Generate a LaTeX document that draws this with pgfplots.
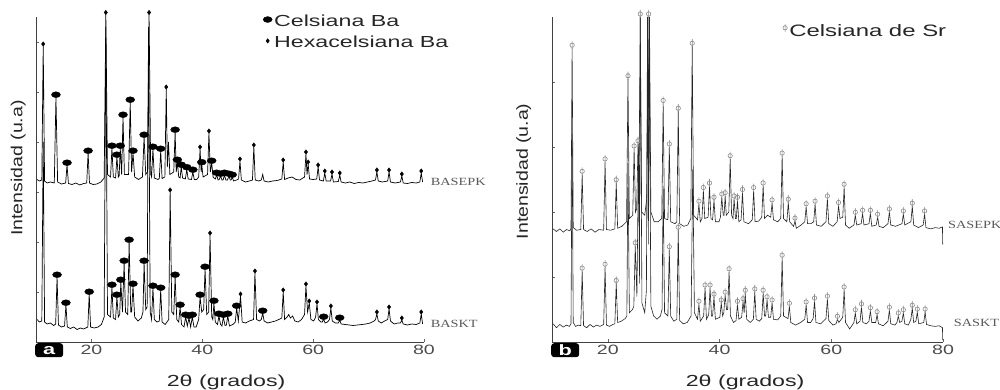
\documentclass[border=0pt]{standalone}
\usepackage{pgfplots}
\pgfplotsset{compat=1.18}
\usepackage{fontspec}
\setmainfont{Liberation Sans}[FakeStretch=1.45]
\newfontfamily\ylabfont{Liberation Sans}[FakeStretch=1.22]
\newfontfamily\labserif{Liberation Serif}[FakeStretch=1.3]

\pgfdeclareplotmark{celm}{%
  \pgfpathellipse{\pgfpointorigin}{\pgfpoint{1.45\pgfplotmarksize}{0pt}}{\pgfpoint{0pt}{0.95\pgfplotmarksize}}%
  \pgfusepathqfillstroke}
\pgfdeclareplotmark{phim}{%
  \pgfpathcircle{\pgfpointorigin}{0.55\pgfplotmarksize}%
  \pgfpathmoveto{\pgfpoint{0pt}{-\pgfplotmarksize}}%
  \pgfpathlineto{\pgfpoint{0pt}{\pgfplotmarksize}}%
  \pgfusepathqstroke}

\pgfplotsset{
  xrdaxis/.style={
    scale only axis, anchor=south west,
    xmin=10, xmax=80, ymin=0,
    enlargelimits=false, clip=false,
    axis x line=bottom, axis y line=left,
    axis line style={-, black!75, line width=0.8pt},
    xtick={20,40,60,80},
    yticklabels={},
    tick align=inside, major tick length=3pt,
    tick style={black!60, line width=0.6pt},
    /pgf/number format/assume math mode=true,
    ticklabel style={font=\fontsize{13.5}{14}\selectfont, text=black!70},
    xlabel={2θ (grados)},
    xlabel style={font=\fontsize{16}{17}\selectfont, text=black!85, anchor=center},
    ylabel style={font=\ylabfont\fontsize{16}{17}\selectfont, text=black!85, anchor=center},
    legend cell align=left,
    legend image code/.code={\draw[#1] plot coordinates {(3pt,0pt)};},
  },
  trace/.style={forget plot, line width=0.7pt, black, mark=none},
  celmk/.style={only marks, mark=celm, mark size=3.1pt, black, mark options={yshift=2.3pt, fill=black}},
  hexmk/.style={only marks, mark=diamond*, mark size=2.2pt, black, mark options={yshift=2pt, fill=black}},
  phimk/.style={only marks, mark=phim, mark size=4pt, black!45, mark options={yshift=3pt, line width=0.6pt}},
}

\begin{document}
\begin{tikzpicture}
\path[use as bounding box] (0pt,0pt) rectangle (1000pt,390pt);

% ---------------- Panel a ----------------
\begin{axis}[xrdaxis, at={(36pt,48pt)}, width=388pt, height=325pt, ymax=6.5,
  ytick={1,2,3,4,5,6},
  xlabel style={at={(axis description cs:0.49,-0.123)}},
  ylabel={Intensidad (u.a)},
  ylabel style={at={(axis description cs:-0.046,0.535)}},
  legend style={draw=none, fill=none, at={(rel axis cs:0.585,1.012)}, anchor=north west,
    font=\fontsize{16}{18}\selectfont, text=black!85, row sep=4pt, inner sep=0pt},
]
% BASKT trace
\addplot[trace] table {
x y
10.2 0.45
10.6 0.40
11.05 0.42
11.3 4.0
11.55 0.40
12.0 0.36
12.6 0.38
13.2 0.33
13.55 0.36
13.8 1.3
14.05 0.34
14.6 0.30
15.15 0.32
15.4 0.74
15.65 0.30
16.2 0.27
16.8 0.30
17.4 0.25
18.0 0.28
18.6 0.26
19.35 0.30
19.6 0.96
19.85 0.30
20.5 0.28
21.2 0.30
21.8 0.35
22.3 0.50
22.6 6.3
22.9 0.55
23.45 0.50
23.7 1.1
23.95 0.48
24.35 0.45
24.6 0.9
24.85 0.5
25.1 0.55
25.3 1.2
25.6 0.6
25.9 1.58
26.15 0.6
26.55 0.55
26.8 2.0
27.1 0.6
27.25 0.6
27.5 1.12
27.8 0.5
28.4 0.42
29.0 0.48
29.3 0.6
29.5 1.58
29.8 0.65
30.05 0.7
30.3 6.3
30.6 0.6
30.85 0.45
31.1 1.08
31.35 0.45
31.8 0.40
32.25 0.42
32.5 1.04
32.75 0.40
33.3 0.35
33.95 0.45
34.2 3.0
34.5 0.6
34.85 0.55
35.1 1.3
35.4 0.45
35.75 0.40
36.0 0.7
36.25 0.35
36.7 0.30
37.0 0.5
37.3 0.32
37.6 0.48
37.9 0.3
38.2 0.5
38.5 0.3
38.9 0.3
39.35 0.45
39.6 0.9
39.9 0.6
40.25 0.65
40.5 1.46
40.8 0.55
41.15 0.6
41.4 2.14
41.7 0.5
41.9 0.45
42.1 0.78
42.35 0.4
42.75 0.35
43.0 0.52
43.3 0.35
43.55 0.32
43.8 0.5
44.1 0.33
44.35 0.34
44.6 0.52
44.9 0.32
45.5 0.35
45.95 0.4
46.2 0.68
46.5 0.42
46.9 0.92
47.2 0.4
47.8 0.38
48.5 0.42
49.25 0.45
49.5 1.38
49.8 0.45
50.3 0.42
50.65 0.45
50.9 0.58
51.15 0.42
51.8 0.38
52.5 0.40
53.2 0.42
53.8 0.45
54.35 0.48
54.6 1.0
54.85 0.45
55.3 0.5
55.6 0.55
55.9 0.48
56.3 0.52
56.7 0.42
57.3 0.40
57.9 0.45
58.45 0.55
58.7 1.12
59.0 0.6
59.3 0.78
59.6 0.45
60.1 0.42
60.45 0.5
60.7 0.76
60.95 0.45
61.4 0.4
61.65 0.4
61.9 0.46
62.15 0.38
62.6 0.4
62.95 0.45
63.2 0.68
63.45 0.42
64.0 0.38
64.55 0.38
64.8 0.44
65.05 0.36
65.8 0.35
66.5 0.34
67.2 0.33
68.0 0.34
68.8 0.35
69.5 0.36
70.3 0.38
71.0 0.42
71.25 0.45
71.5 0.56
71.75 0.42
72.3 0.38
72.9 0.42
73.45 0.45
73.7 0.66
73.95 0.42
74.6 0.36
75.3 0.38
75.75 0.38
76.0 0.44
76.25 0.36
77.0 0.34
77.8 0.36
78.6 0.35
79.25 0.38
79.5 0.56
79.75 0.36
};
% BASEPK trace
\addplot[trace] table {
x y
10.2 3.25
10.6 3.22
11.05 3.24
11.3 5.92
11.55 3.22
12.0 3.18
12.6 3.2
13.3 3.18
13.6 4.9
13.9 3.2
14.6 3.16
15.35 3.18
15.6 3.54
15.85 3.17
16.5 3.15
17.2 3.18
17.9 3.14
18.6 3.17
19.15 3.18
19.4 3.78
19.65 3.18
20.3 3.15
21.0 3.16
21.7 3.2
22.3 3.28
22.6 6.55
22.9 3.35
23.45 3.3
23.7 3.88
23.95 3.3
24.35 3.28
24.6 3.7
24.85 3.3
25.0 3.32
25.2 3.88
25.45 3.35
25.7 4.5
25.95 3.35
26.7 3.35
27.0 4.8
27.25 3.4
27.5 3.78
27.8 3.3
28.5 3.25
29.2 3.3
29.5 4.1
29.8 3.35
30.1 3.4
30.4 6.55
30.7 3.35
30.85 3.3
31.1 3.86
31.35 3.28
32.0 3.25
32.25 3.27
32.5 3.82
32.75 3.27
33.25 3.3
33.5 5.06
33.7 3.5
33.9 4.0
34.15 3.35
34.85 3.4
35.1 4.2
35.3 3.4
35.5 3.6
35.75 3.3
36.0 3.28
36.2 3.5
36.45 3.28
36.95 3.26
37.2 3.45
37.45 3.26
38.05 3.25
38.3 3.4
38.55 3.25
39.0 3.25
39.35 3.3
39.6 3.86
39.8 3.4
39.9 3.55
40.15 3.3
40.95 3.35
41.2 4.18
41.45 3.4
41.7 3.58
41.95 3.3
42.35 3.26
42.6 3.34
42.85 3.24
43.05 3.25
43.3 3.32
43.55 3.24
43.75 3.24
44.0 3.34
44.25 3.24
44.55 3.24
44.8 3.32
45.05 3.24
45.2 3.24
45.4 3.3
45.65 3.22
46.2 3.24
46.55 3.26
46.8 3.62
47.05 3.24
47.8 3.2
48.5 3.22
49.05 3.24
49.3 3.9
49.55 3.24
50.2 3.22
50.65 3.24
50.9 3.35
51.15 3.22
51.9 3.2
52.7 3.22
53.5 3.23
54.35 3.26
54.6 3.6
54.85 3.25
55.5 3.28
56.2 3.3
56.9 3.25
57.6 3.24
58.45 3.3
58.7 3.76
58.9 3.35
59.1 3.56
59.35 3.26
60.0 3.25
60.65 3.26
60.9 3.5
61.15 3.24
61.85 3.22
62.1 3.38
62.35 3.22
63.15 3.22
63.4 3.36
63.65 3.2
64.55 3.21
64.8 3.34
65.05 3.2
65.8 3.18
66.6 3.2
67.4 3.17
68.2 3.19
69.0 3.18
69.8 3.2
70.6 3.22
71.25 3.24
71.5 3.4
71.75 3.22
72.5 3.2
73.45 3.22
73.7 3.4
73.95 3.2
74.8 3.18
75.75 3.2
76.0 3.32
76.25 3.18
77.0 3.17
77.8 3.19
78.6 3.18
79.25 3.2
79.5 3.38
79.75 3.2
};
% markers BASKT
\addplot[celmk] table {
x y
13.8 1.3
15.4 0.74
19.6 0.96
23.7 1.1
24.6 0.9
25.3 1.2
25.9 1.58
26.8 2.0
27.5 1.12
29.5 1.58
31.1 1.08
32.5 1.04
35.1 1.3
36.0 0.7
37.0 0.5
37.6 0.48
38.2 0.5
39.6 0.9
40.5 1.46
42.1 0.78
43.0 0.52
43.8 0.5
44.6 0.52
46.2 0.68
50.9 0.58
61.9 0.46
64.8 0.44
};
\addlegendentry{Celsiana Ba}
\addplot[hexmk] table {
x y
34.2 3.0
41.4 2.14
46.9 0.92
49.5 1.38
54.6 1.0
58.7 1.12
59.3 0.78
60.7 0.76
63.2 0.68
71.5 0.56
73.7 0.66
76.0 0.44
79.5 0.56
};
\addlegendentry{Hexacelsiana Ba}
% markers BASEPK
\addplot[celmk, forget plot] table {
x y
13.6 4.9
15.6 3.54
19.4 3.78
23.7 3.88
24.6 3.7
25.2 3.88
25.7 4.5
27.0 4.8
27.5 3.78
29.5 4.1
31.1 3.86
32.5 3.82
35.1 4.2
35.5 3.6
36.2 3.5
37.2 3.45
38.3 3.4
39.9 3.55
41.7 3.58
42.6 3.34
43.3 3.32
44.0 3.34
44.8 3.32
45.4 3.3
};
\addplot[hexmk, forget plot] table {
x y
11.3 5.92
22.6 6.55
30.4 6.55
33.5 5.06
39.6 3.86
41.2 4.18
46.8 3.62
49.3 3.9
54.6 3.6
58.7 3.76
59.1 3.56
60.9 3.5
62.1 3.38
63.4 3.36
64.8 3.34
71.5 3.4
73.7 3.4
76.0 3.32
79.5 3.38
};
\node[anchor=west, text=black!65, font=\labserif\fontsize{11}{12}\selectfont] at (axis cs:80.6,3.2) {BASEPK};
\node[anchor=west, text=black!65, font=\labserif\fontsize{11}{12}\selectfont] at (axis cs:80.6,0.36) {BASKT};
\node[fill=black, rounded corners=3pt, text=white, font=\bfseries\fontsize{15}{15}\selectfont,
  minimum width=28pt, minimum height=14pt, inner sep=0pt, anchor=north west]
  at ([xshift=-1pt,yshift=-1pt]rel axis cs:0,0) {a};
\end{axis}

% ---------------- Panel b ----------------
\begin{axis}[xrdaxis, at={(552pt,48pt)}, width=391pt, height=325pt, ymax=5,
  ytick={1,2,3,4},
  xlabel style={at={(axis description cs:0.494,-0.123)}},
  ylabel={Intensidad (u.a)},
  ylabel style={at={(axis description cs:-0.072,0.525)}},
  legend style={draw=none, fill=none, at={(rel axis cs:0.59,0.985)}, anchor=north west,
    font=\fontsize{16.5}{18}\selectfont, text=black!85, inner sep=0pt},
]
% SASKT trace
\addplot[trace, black!85, line width=0.6pt] table {
x y
10.2 0.28
10.8 0.22
11.4 0.27
12.0 0.23
12.6 0.26
13.1 0.24
13.4 0.28
13.6 3.2
13.8 0.3
14.2 0.24
14.7 0.26
15.15 0.25
15.4 1.09
15.65 0.25
16.2 0.22
16.8 0.27
17.4 0.23
18.0 0.26
18.6 0.24
19.25 0.27
19.5 1.15
19.75 0.26
20.3 0.24
20.9 0.27
21.25 0.28
21.5 0.9
21.75 0.3
22.4 0.32
23.1 0.36
23.4 0.4
23.6 2.75
23.85 0.45
24.4 0.5
24.65 0.55
24.9 1.48
25.2 0.7
25.5 3.0
25.65 0.9
25.8 5.0
26.1 0.6
26.6 0.45
26.9 0.8
27.1 5.0
27.25 1.5
27.4 5.0
27.7 0.55
28.2 0.4
28.8 0.35
29.4 0.4
29.7 0.5
29.9 2.4
30.15 0.45
30.75 0.4
31.0 1.42
31.25 0.4
31.8 0.32
32.35 0.35
32.6 1.72
32.85 0.33
33.5 0.28
34.2 0.3
34.9 0.4
35.2 2.65
35.5 0.45
36.05 0.35
36.3 0.58
36.55 0.32
37.15 0.4
37.4 0.83
37.65 0.35
38.05 0.42
38.3 0.83
38.55 0.4
38.75 0.4
39.0 0.69
39.25 0.35
40.05 0.38
40.3 0.6
40.55 0.4
40.75 0.45
41.0 0.72
41.25 0.5
41.45 0.5
41.7 1.08
41.95 0.4
42.5 0.3
42.95 0.33
43.2 0.58
43.45 0.35
43.95 0.38
44.2 0.62
44.4 0.45
44.6 0.75
44.85 0.35
45.5 0.3
46.05 0.35
46.3 0.77
46.55 0.35
47.1 0.32
47.55 0.36
47.8 0.75
48.05 0.4
48.25 0.4
48.5 0.65
48.75 0.38
49.15 0.38
49.4 0.6
49.65 0.35
50.4 0.34
50.95 0.4
51.2 1.29
51.45 0.4
52.25 0.36
52.5 0.55
52.75 0.3
53.6 0.26
54.5 0.3
55.25 0.35
55.5 0.57
55.75 0.3
56.3 0.3
56.75 0.36
57.0 0.63
57.25 0.3
58.1 0.28
59.05 0.36
59.3 0.66
59.55 0.33
60.3 0.26
60.85 0.28
61.1 0.35
61.35 0.3
62.05 0.38
62.3 0.8
62.55 0.3
63.3 0.2
64.05 0.3
64.3 0.45
64.55 0.28
65.15 0.32
65.4 0.54
65.65 0.3
66.3 0.28
66.75 0.32
67.0 0.48
67.25 0.3
67.95 0.3
68.2 0.42
68.45 0.28
69.3 0.25
70.15 0.32
70.4 0.49
70.65 0.28
71.4 0.26
71.75 0.3
72.0 0.4
72.25 0.3
72.65 0.32
72.9 0.45
73.15 0.28
73.8 0.26
74.25 0.35
74.5 0.52
74.75 0.3
75.15 0.32
75.4 0.46
75.65 0.28
76.55 0.3
76.8 0.46
77.05 0.27
77.8 0.25
78.6 0.24
79.3 0.25
79.9 0.22
79.95 0.03
};
% SASEPK trace
\addplot[trace, black!85, line width=0.6pt] table {
x y
10.2 1.74
10.8 1.7
11.4 1.74
12.0 1.69
12.6 1.73
13.2 1.71
13.4 1.75
13.6 4.52
13.8 1.76
14.4 1.72
15.15 1.73
15.4 2.58
15.65 1.73
16.3 1.7
17.0 1.74
17.7 1.69
18.4 1.73
19.25 1.72
19.5 2.77
19.75 1.73
20.5 1.72
21.25 1.74
21.5 2.45
21.75 1.75
22.5 1.78
23.35 1.85
23.6 4.05
23.85 1.9
24.45 1.95
24.7 2.97
24.95 2.0
25.15 2.05
25.4 3.05
25.55 2.2
25.8 5.0
26.05 2.0
26.6 1.95
26.95 2.2
27.2 5.0
27.35 2.5
27.45 5.0
27.7 2.0
28.3 1.85
29.0 1.85
29.65 1.9
29.9 3.67
30.15 1.9
30.75 1.88
31.0 3.0
31.25 1.85
32.0 1.82
32.35 1.85
32.6 3.55
32.85 1.82
33.6 1.78
34.3 1.8
34.85 1.9
35.1 4.55
35.35 1.95
36.05 1.88
36.3 2.12
36.55 1.85
36.85 1.9
37.1 2.33
37.35 1.9
37.95 1.92
38.2 2.4
38.45 1.9
38.75 1.88
39.0 2.18
39.25 1.85
39.9 1.85
40.15 1.92
40.4 2.23
40.65 1.95
40.8 1.95
41.0 2.25
41.2 1.95
41.65 2.0
41.9 2.82
42.15 1.95
42.4 1.9
42.6 2.2
42.85 1.9
43.0 1.9
43.2 2.18
43.45 1.85
43.85 1.88
44.1 2.3
44.35 1.85
45.2 1.82
45.85 1.88
46.1 2.33
46.35 1.85
47.0 1.86
47.55 1.92
47.8 2.4
48.05 1.9
48.6 1.95
49.15 1.92
49.4 2.14
49.65 1.88
50.4 1.85
50.95 1.9
51.2 2.86
51.45 1.9
52.05 1.85
52.3 2.15
52.55 1.85
53.25 1.78
53.5 1.86
53.75 1.75
54.6 1.8
55.25 1.85
55.5 2.08
55.75 1.82
56.35 1.82
56.85 1.85
57.1 2.12
57.35 1.8
58.2 1.78
59.05 1.85
59.3 2.2
59.55 1.82
60.3 1.78
61.05 1.85
61.3 2.1
61.55 1.9
62.05 1.92
62.3 2.38
62.55 1.8
63.2 1.75
64.05 1.8
64.3 1.95
64.55 1.8
65.35 1.82
65.6 1.98
65.85 1.8
66.75 1.82
67.0 1.98
67.25 1.78
68.05 1.8
68.3 1.92
68.55 1.78
69.3 1.76
70.15 1.82
70.4 2.0
70.65 1.8
71.5 1.78
72.65 1.82
72.9 1.97
73.15 1.8
74.25 1.85
74.5 2.09
74.75 1.8
75.6 1.76
76.45 1.8
76.7 1.97
76.95 1.76
77.8 1.74
78.6 1.76
79.3 1.75
79.9 1.77
79.95 1.5
};
% SASEPK markers
\addplot[phimk] table {
x y
13.6 4.52
15.4 2.58
19.5 2.77
21.5 2.45
23.6 4.05
24.7 2.97
25.4 3.05
25.8 5.0
27.3 5.0
29.9 3.67
31.0 3.0
32.6 3.55
35.1 4.55
36.3 2.12
37.1 2.33
38.2 2.4
39.0 2.18
40.4 2.23
41.0 2.25
41.9 2.82
42.6 2.2
43.2 2.18
44.1 2.3
46.1 2.33
47.8 2.4
49.4 2.14
51.2 2.86
52.3 2.15
53.5 1.86
55.5 2.08
57.1 2.12
59.3 2.2
61.3 2.1
62.3 2.38
64.3 1.95
65.6 1.98
67.0 1.98
68.3 1.92
70.4 2.0
72.9 1.97
74.5 2.09
76.7 1.97
};
\addlegendentry{Celsiana de Sr}
% SASKT markers
\addplot[phimk, forget plot] table {
x y
15.4 1.09
19.5 1.15
21.5 0.9
24.9 1.48
31.0 1.42
32.6 1.72
36.3 0.58
37.4 0.83
38.3 0.83
39.0 0.69
40.3 0.6
41.0 0.72
41.7 1.08
43.2 0.58
44.2 0.62
44.6 0.75
46.3 0.77
47.8 0.75
48.5 0.65
49.4 0.6
51.2 1.29
52.5 0.55
55.5 0.57
57.0 0.63
59.3 0.66
61.1 0.35
62.3 0.8
64.3 0.45
65.4 0.54
67.0 0.48
68.2 0.42
70.4 0.49
72.0 0.4
72.9 0.45
74.5 0.52
75.4 0.46
76.8 0.46
};
\node[anchor=west, text=black!65, font=\labserif\fontsize{11}{12}\selectfont] at (axis cs:80.3,1.8) {SASEPK};
\node[anchor=west, text=black!65, font=\labserif\fontsize{11}{12}\selectfont] at (axis cs:81.3,0.29) {SASKT};
\node[fill=black, rounded corners=3pt, text=white, font=\bfseries\fontsize{15}{15}\selectfont,
  minimum width=28pt, minimum height=14pt, inner sep=0pt, anchor=north west]
  at ([xshift=-1pt,yshift=-1pt]rel axis cs:0,0) {b};
\end{axis}
\end{tikzpicture}
\end{document}
